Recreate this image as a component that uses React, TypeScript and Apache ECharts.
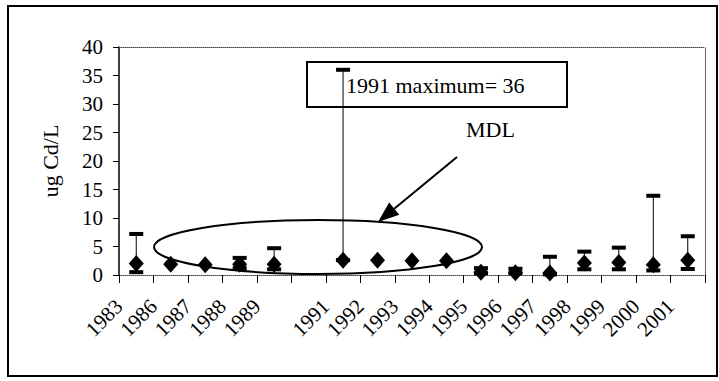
import React, { useEffect, useRef } from "react";
import * as echarts from "echarts";

// Sampling years (blank slot = no 1990 sample)
const years = ["1983", "1986", "1987", "1988", "1989", "", "1991", "1992", "1993", "1994", "1995", "1996", "1997", "1998", "1999", "2000", "2001"];
// Mean cadmium concentration, ug Cd/L
const meanValues = [2.0, 1.9, 1.8, 1.9, 1.9, null, 2.6, 2.6, 2.5, 2.5, 0.5, 0.4, 0.35, 2.1, 2.2, 1.8, 2.6];
// Range of observations per year (null = no range bar)
const minValues = [0.5, null, null, 1.2, 1.0, null, 2.6, null, null, null, 0.3, 0.3, 0.1, 1.0, 1.0, 0.8, 1.05];
const maxValues = [7.2, null, null, 3.0, 4.7, null, 36, null, null, null, 1.2, 1.1, 3.2, 4.1, 4.8, 13.9, 6.8];
// Y-axis scale
const yMin = 0;
const yMax = 40;
const yStep = 5;

const SERIF = "Times New Roman, Liberation Serif, DejaVu Serif, serif";

export default function App() {
  const ref = useRef<HTMLDivElement>(null);

  useEffect(() => {
    if (!ref.current) return;
    const chart = echarts.init(ref.current, undefined, { renderer: "svg" });

    const rangeData: number[][] = [];
    years.forEach((_, i) => {
      const lo = minValues[i];
      const hi = maxValues[i];
      if (lo != null && hi != null) rangeData.push([i, lo, hi]);
    });

    // arrow from the MDL label to the ellipse
    const start = [457, 157];
    const tip = [378, 222];
    const dx = tip[0] - start[0];
    const dy = tip[1] - start[1];
    const len = Math.hypot(dx, dy);
    const ux = dx / len;
    const uy = dy / len;
    const headLen = 21;
    const headHalf = 8;
    const bx = tip[0] - headLen * ux;
    const by = tip[1] - headLen * uy;
    const nx = -uy;
    const ny = ux;

    const dotted = { color: "#444", width: 1, type: [1, 1] as any };

    const option: any = {
      animation: false,
      backgroundColor: "#fff",
      textStyle: { fontFamily: SERIF },
      grid: { left: 119, right: 14, top: 47, bottom: 106, containLabel: false },
      xAxis: [
        {
          type: "category",
          data: years,
          boundaryGap: true,
          position: "bottom",
          axisLine: { show: true, lineStyle: dotted },
          axisTick: { show: true, interval: 0, length: 8, lineStyle: { color: "#000", width: 1 } },
          axisLabel: { show: false },
          splitLine: { show: false },
        },
        {
          type: "category",
          data: [...years, ""],
          boundaryGap: false,
          position: "bottom",
          axisLine: { show: false },
          axisTick: { show: false },
          axisLabel: {
            interval: 0,
            rotate: 45,
            margin: 28,
            fontSize: 21,
            fontFamily: SERIF,
            color: "#000",
          },
          splitLine: { show: false },
        },
        {
          type: "value",
          position: "top",
          min: 0,
          max: 1,
          axisLine: { show: true, onZero: false, lineStyle: dotted },
          axisTick: { show: false },
          axisLabel: { show: false },
          splitLine: { show: false },
        },
      ],
      yAxis: [
        {
          type: "value",
          min: yMin,
          max: yMax,
          interval: yStep,
          name: "ug Cd/L",
          nameLocation: "middle",
          nameGap: 58,
          nameTextStyle: { fontSize: 22, fontFamily: SERIF, color: "#000" },
          axisLine: { show: true, lineStyle: { color: "#000", width: 1.5 } },
          axisTick: { show: true, length: 6, lineStyle: { color: "#000", width: 1 } },
          axisLabel: { margin: 16, fontSize: 21, fontFamily: SERIF, color: "#000" },
          splitLine: { show: false },
        },
        {
          type: "value",
          position: "right",
          min: 0,
          max: 1,
          axisLine: { show: true, onZero: false, lineStyle: dotted },
          axisTick: { show: false },
          axisLabel: { show: false },
          splitLine: { show: false },
        },
      ],
      series: [
        {
          type: "custom",
          xAxisIndex: 0,
          yAxisIndex: 0,
          data: rangeData,
          encode: { x: 0, y: [1, 2] },
          z: 2,
          renderItem: (_params: any, api: any) => {
            const x = api.value(0);
            const lo = api.value(1);
            const hi = api.value(2);
            const top = api.coord([x, hi]);
            const bot = api.coord([x, lo]);
            const w = 14;
            const h = 4;
            return {
              type: "group",
              children: [
                {
                  type: "line",
                  shape: { x1: top[0], y1: top[1], x2: bot[0], y2: bot[1] },
                  style: { stroke: "#000", lineWidth: 1 },
                },
                {
                  type: "rect",
                  shape: { x: top[0] - w / 2, y: top[1] - h / 2, width: w, height: h },
                  style: { fill: "#000" },
                },
                {
                  type: "rect",
                  shape: { x: bot[0] - w / 2, y: bot[1] - h / 2, width: w, height: h },
                  style: { fill: "#000" },
                },
              ],
            };
          },
        },
        {
          type: "scatter",
          xAxisIndex: 0,
          yAxisIndex: 0,
          data: meanValues,
          symbol: "diamond",
          symbolSize: [15, 17],
          itemStyle: { color: "#000", opacity: 1 },
          z: 3,
        },
      ],
      graphic: [
        {
          type: "rect",
          shape: { x: 8, y: 6, width: 709, height: 370 },
          style: { fill: "none", stroke: "#000", lineWidth: 2 },
          z: 10,
        },
        {
          type: "rect",
          shape: { x: 307, y: 62, width: 260, height: 45 },
          style: { fill: "none", stroke: "#000", lineWidth: 2 },
          z: 10,
        },
        {
          type: "text",
          x: 346,
          y: 85,
          style: {
            text: "1991 maximum= 36",
            fontSize: 22,
            fontFamily: SERIF,
            fill: "#000",
            verticalAlign: "middle",
          },
          z: 10,
        },
        {
          type: "text",
          x: 466,
          y: 129,
          style: {
            text: "MDL",
            fontSize: 22,
            fontFamily: SERIF,
            fill: "#000",
            verticalAlign: "middle",
          },
          z: 10,
        },
        {
          type: "line",
          shape: { x1: start[0], y1: start[1], x2: bx, y2: by },
          style: { stroke: "#000", lineWidth: 2 },
          z: 10,
        },
        {
          type: "polygon",
          shape: {
            points: [
              [tip[0], tip[1]],
              [bx + headHalf * nx, by + headHalf * ny],
              [bx - headHalf * nx, by - headHalf * ny],
            ],
          },
          style: { fill: "#000" },
          z: 10,
        },
        {
          type: "ellipse",
          shape: { cx: 318, cy: 247, rx: 164, ry: 27 },
          style: { fill: "none", stroke: "#000", lineWidth: 2 },
          z: 10,
        },
      ],
    };

    chart.setOption(option);
    return () => chart.dispose();
  }, []);

  return (
    <div
      ref={ref}
      style={{ position: "fixed", left: 0, top: 0, width: 719, height: 381, background: "#fff" }}
    />
  );
}
